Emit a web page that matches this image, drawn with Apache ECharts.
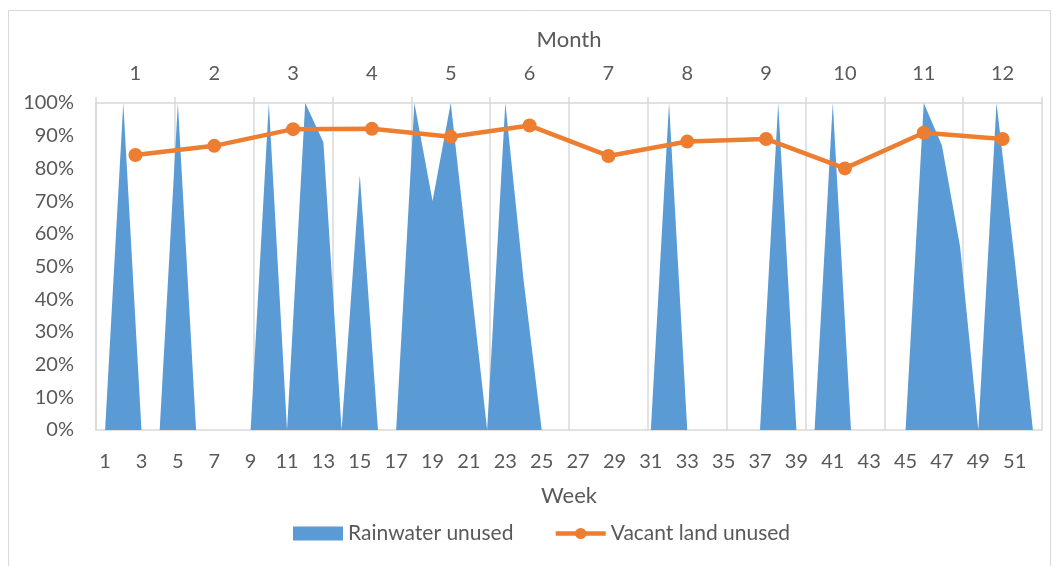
<!DOCTYPE html>
<html>
<head>
<meta charset="utf-8">
<script src="https://cdn.jsdelivr.net/npm/echarts@6/dist/echarts.min.js"></script>
<style>
  html, body { margin: 0; padding: 0; background: #ffffff; }
  #chart { width: 1056px; height: 566px; }
</style>
</head>
<body>
<div id="chart"></div>
<script>
// Week numbers along the bottom axis
const weeks = Array.from({ length: 52 }, (_, i) => String(i + 1));
// Months along the top axis
const months = ['1', '2', '3', '4', '5', '6', '7', '8', '9', '10', '11', '12'];

// Share of rainwater left unused per week (%)
const rainwaterUnused = [
  0, 100, 0, 0, 100, 0, 0, 0, 0, 100,
  0, 100, 88, 0, 78, 0, 0, 100, 70, 100,
  50, 0, 100, 46, 0, 0, 0, 0, 0, 0,
  0, 100, 0, 0, 0, 0, 0, 100, 0, 0,
  100, 0, 0, 0, 0, 100, 87, 56, 0, 100,
  52, 0
];

// Share of vacant land left unused per month (%)
const vacantLandUnused = [84.1, 86.9, 92.0, 92.1, 89.7, 93.1, 83.8, 88.2, 89.0, 80.0, 90.9, 89.0];

const FONT = 'Lato';
const TEXT = '#595959';
const GRID = '#d9d9d9';
const BLUE = '#5B9BD5';
const ORANGE = '#ED7D31';

const chart = echarts.init(document.getElementById('chart'), null, { renderer: 'canvas' });

chart.setOption({
  animation: false,
  backgroundColor: '#ffffff',
  textStyle: { fontFamily: FONT },
  graphic: [{
    type: 'rect',
    shape: { x: 8.5, y: 10.5, width: 1042, height: 600 },
    style: { fill: 'none', stroke: GRID, lineWidth: 1 },
    silent: true,
    z: -10
  }],
  grid: { left: 96, right: 14, top: 103, bottom: 136, containLabel: false },
  legend: {
    left: 288,
    top: 518,
    itemGap: 40,
    itemWidth: 50,
    itemHeight: 14,
    textStyle: { color: TEXT, fontSize: 21, fontFamily: FONT },
    data: [
      { name: 'Rainwater unused', icon: 'rect' },
      { name: 'Vacant land unused', lineStyle: { width: 4.5, color: ORANGE } }
    ]
  },
  xAxis: [
    {
      type: 'category',
      position: 'bottom',
      data: weeks,
      boundaryGap: true,
      name: 'Week',
      nameLocation: 'middle',
      nameGap: 55,
      nameTextStyle: { color: TEXT, fontSize: 22, fontFamily: FONT },
      axisLine: { show: true, lineStyle: { color: GRID, width: 1.5 } },
      axisTick: { show: false },
      axisLabel: { interval: 1, color: TEXT, fontSize: 20, margin: 22, fontFamily: FONT },
      splitLine: { show: false }
    },
    {
      type: 'category',
      position: 'top',
      data: months,
      boundaryGap: true,
      name: 'Month',
      nameLocation: 'middle',
      nameGap: 52,
      nameTextStyle: { color: TEXT, fontSize: 22, fontFamily: FONT },
      axisLine: { show: true, lineStyle: { color: GRID, width: 1.5 } },
      axisTick: { show: true, length: 6, lineStyle: { color: GRID, width: 1.5 } },
      axisLabel: { color: TEXT, fontSize: 20, margin: 19, fontFamily: FONT },
      splitLine: { show: true, lineStyle: { color: GRID, width: 1.5 } }
    }
  ],
  yAxis: {
    type: 'value',
    min: 0,
    max: 100,
    interval: 10,
    axisLine: { show: true, lineStyle: { color: GRID, width: 1.5 } },
    axisTick: { show: false },
    axisLabel: { formatter: '{value}%', color: TEXT, fontSize: 20, margin: 22, fontFamily: FONT },
    splitLine: { show: false }
  },
  series: [
    {
      name: 'Rainwater unused',
      type: 'line',
      xAxisIndex: 0,
      yAxisIndex: 0,
      data: rainwaterUnused,
      showSymbol: false,
      symbol: 'none',
      lineStyle: { width: 0, color: BLUE },
      itemStyle: { color: BLUE },
      areaStyle: { color: BLUE, opacity: 1 },
      z: 1
    },
    {
      name: 'Vacant land unused',
      type: 'line',
      xAxisIndex: 1,
      yAxisIndex: 0,
      data: vacantLandUnused,
      symbol: 'circle',
      symbolSize: 14,
      lineStyle: { width: 4.5, color: ORANGE },
      itemStyle: { color: ORANGE },
      z: 3
    }
  ]
});
</script>
</body>
</html>
